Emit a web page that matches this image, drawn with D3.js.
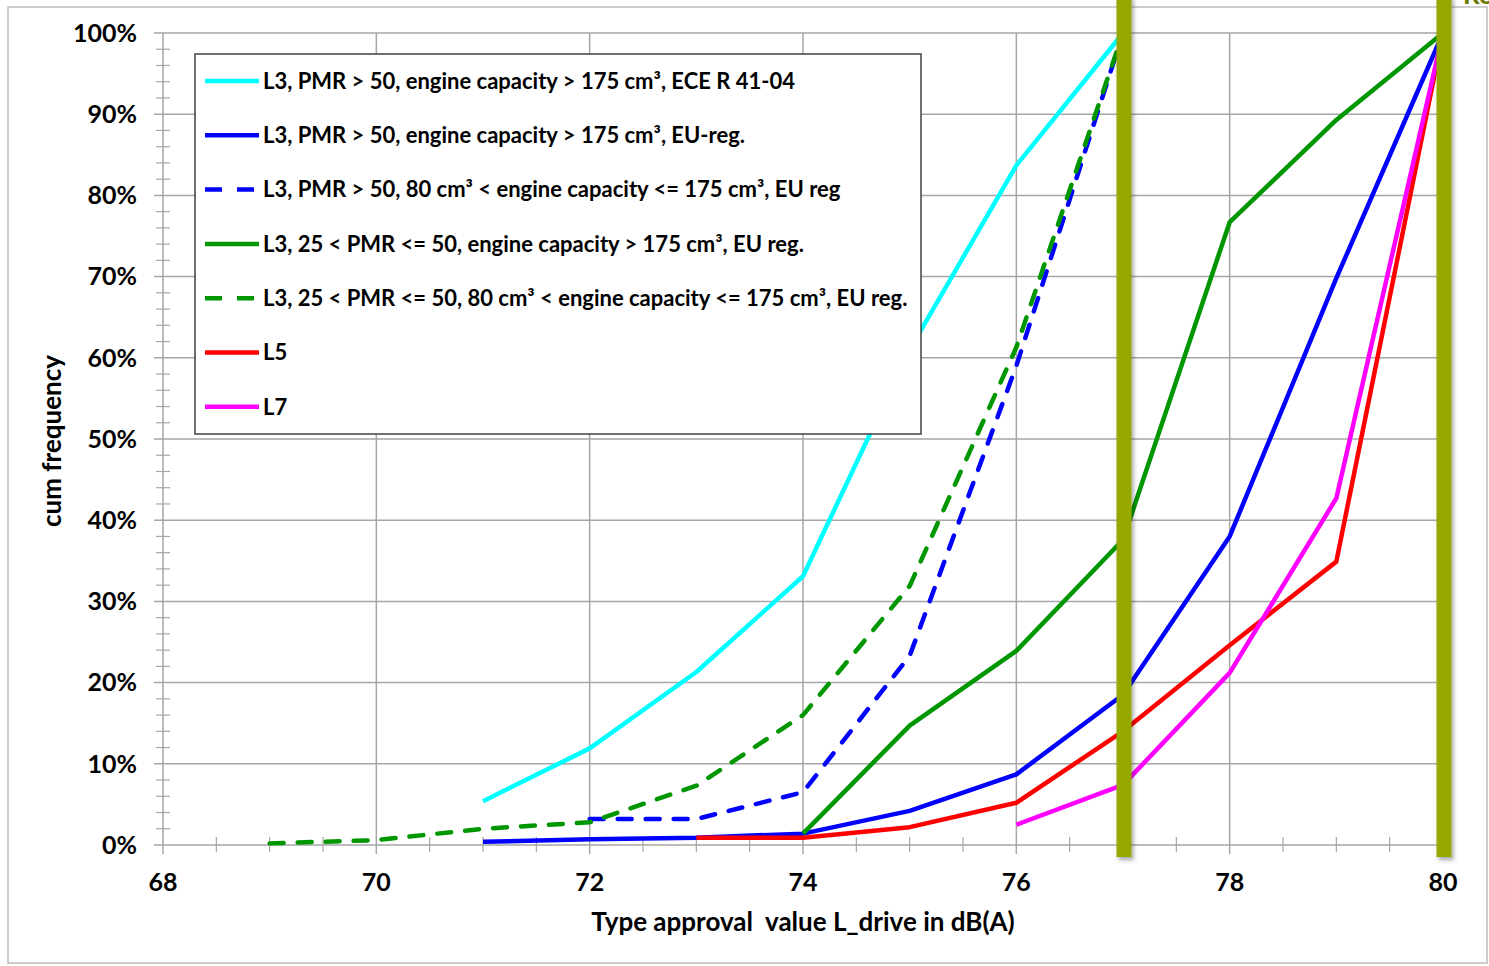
<!DOCTYPE html>
<html>
<head>
<meta charset="utf-8">
<script src="https://cdn.jsdelivr.net/npm/d3@7"></script>
<style>
  body { margin: 0; background: #fff; }
  text { font-family: Lato, "Open Sans", sans-serif; font-weight: bold; fill: #000; }
</style>
</head>
<body>
<div id="chart"></div>
<script>
// Data (cumulative frequency in %)
const seriesNames = [
  "L3, PMR > 50, engine capacity > 175 cm³, ECE R 41-04",
  "L3, PMR > 50, engine capacity > 175 cm³, EU-reg.",
  "L3, PMR > 50, 80 cm³ < engine capacity <= 175 cm³, EU reg",
  "L3, 25 < PMR <= 50, engine capacity > 175 cm³, EU reg.",
  "L3, 25 < PMR <= 50, 80 cm³ < engine capacity <= 175 cm³, EU reg.",
  "L5",
  "L7"
];
const seriesColors = ["#00ffff", "#0000ff", "#0000ff", "#009600", "#009600", "#ff0000", "#ff00ff"];
const seriesDashed = [false, false, true, false, true, false, false];

const cyanX = [71, 72, 73, 74, 75, 76, 77];
const cyanY = [5.4, 11.9, 21.3, 33.1, 61.0, 83.7, 100];
const blueX = [71, 72, 73, 74, 75, 76, 77, 78, 79, 80];
const blueY = [0.4, 0.7, 0.9, 1.4, 4.2, 8.7, 18.5, 38.0, 69.8, 100];
const blueDashX = [72, 73, 74, 75, 76, 77];
const blueDashY = [3.2, 3.2, 6.5, 23.3, 59.0, 100];
const greenX = [74, 75, 76, 77, 78, 79, 80];
const greenY = [1.4, 14.7, 23.9, 37.6, 76.7, 89.3, 100];
const greenDashX = [69, 70, 71, 72, 73, 74, 75, 76, 77];
const greenDashY = [0.2, 0.6, 2.0, 2.8, 7.3, 16.0, 31.9, 61.3, 100];
const redX = [73, 74, 75, 76, 77, 78, 79, 80];
const redY = [0.9, 0.9, 2.2, 5.2, 14.0, 24.6, 34.9, 100];
const magentaX = [76, 77, 78, 79, 80];
const magentaY = [2.5, 7.4, 21.2, 42.7, 100];

const xTicks = [68, 70, 72, 74, 76, 78, 80];
const yTicks = [0, 10, 20, 30, 40, 50, 60, 70, 80, 90, 100];
const limitLines = [77, 80];

const allX = [cyanX, blueX, blueDashX, greenX, greenDashX, redX, magentaX];
const allY = [cyanY, blueY, blueDashY, greenY, greenDashY, redY, magentaY];

// Set up the chart dimensions
const W = 1489, H = 966;
const margin = { top: 33, right: 46, bottom: 121, left: 163 };
const width = W - margin.left - margin.right;
const height = H - margin.top - margin.bottom;

const x = d3.scaleLinear().domain([68, 80]).range([0, width]);
const y = d3.scaleLinear().domain([0, 100]).range([height, 0]);

const root = d3.select("#chart").append("svg")
    .attr("width", W)
    .attr("height", H);

// drop shadow for the limit bars
const defs = root.append("defs");
const f = defs.append("filter").attr("id", "shadow").attr("x", "-50%").attr("y", "-5%").attr("width", "200%").attr("height", "110%");
f.append("feDropShadow").attr("dx", 2).attr("dy", 3).attr("stdDeviation", 2).attr("flood-color", "#000").attr("flood-opacity", 0.35);

// outer frame
root.append("rect")
    .attr("x", 8).attr("y", 7)
    .attr("width", 1479).attr("height", 956)
    .attr("fill", "none")
    .attr("stroke", "#bdbdbd")
    .attr("stroke-width", 1.5);

const svg = root.append("g")
    .attr("transform", `translate(${margin.left},${margin.top})`);

const gridColor = "#a6a6a6";

// horizontal gridlines
svg.append("g").selectAll("line")
    .data(yTicks)
    .join("line")
    .attr("x1", -9).attr("x2", width)
    .attr("y1", d => y(d)).attr("y2", d => y(d))
    .attr("stroke", gridColor).attr("stroke-width", 1.5);

// vertical gridlines
svg.append("g").selectAll("line")
    .data(xTicks)
    .join("line")
    .attr("x1", d => x(d)).attr("x2", d => x(d))
    .attr("y1", 0).attr("y2", height + 9)
    .attr("stroke", gridColor).attr("stroke-width", 1.5);

// minor ticks
svg.append("g").selectAll("line")
    .data(d3.range(0, 100.1, 2).filter(v => v % 10 !== 0))
    .join("line")
    .attr("x1", -7).attr("x2", 7)
    .attr("y1", d => y(d)).attr("y2", d => y(d))
    .attr("stroke", gridColor).attr("stroke-width", 1.2);

svg.append("g").selectAll("line")
    .data(d3.range(68, 80.01, 0.5).filter(v => v % 2 !== 0))
    .join("line")
    .attr("x1", d => x(d)).attr("x2", d => x(d))
    .attr("y1", height - 8).attr("y2", height + 7)
    .attr("stroke", gridColor).attr("stroke-width", 1.2);

// axis labels
svg.append("g").selectAll("text")
    .data(yTicks)
    .join("text")
    .attr("x", -26)
    .attr("y", d => y(d))
    .attr("dy", "0.35em")
    .attr("text-anchor", "end")
    .style("font-size", "25px")
    .text(d => d + "%");

svg.append("g").selectAll("text")
    .data(xTicks)
    .join("text")
    .attr("x", d => x(d))
    .attr("y", height + 37)
    .attr("dy", "0.35em")
    .attr("text-anchor", "middle")
    .style("font-size", "25px")
    .text(d => d);

svg.append("text")
    .attr("x", x(74))
    .attr("y", height + 77)
    .attr("dy", "0.35em")
    .attr("text-anchor", "middle")
    .attr("xml:space", "preserve")
    .style("font-size", "26px")
    .text("Type approval  value L_drive in dB(A)");

svg.append("text")
    .attr("transform", `translate(${52 - margin.left},${408})rotate(-90)`)
    .attr("dy", "0.35em")
    .attr("text-anchor", "middle")
    .style("font-size", "26px")
    .text("cum frequency");

// the series
const line = d3.line()
    .x(d => x(d[0]))
    .y(d => y(d[1]));

allX.forEach((xs, i) => {
    const pts = xs.map((v, j) => [v, allY[i][j]]);
    svg.append("path")
        .datum(pts)
        .attr("fill", "none")
        .attr("stroke", seriesColors[i])
        .attr("stroke-width", 4.5)
        .attr("stroke-linejoin", "round")
        .attr("stroke-linecap", seriesDashed[i] ? "round" : "butt")
        .attr("stroke-dasharray", seriesDashed[i] ? "14,14" : null)
        .attr("d", line);
});

// legend
const lg = root.append("g").attr("transform", "translate(195,54)");
lg.append("rect")
    .attr("width", 726).attr("height", 380)
    .attr("fill", "#fff")
    .attr("stroke", "#404040").attr("stroke-width", 1.5);

const items = lg.selectAll("g.item")
    .data(seriesNames)
    .join("g")
    .attr("class", "item")
    .attr("transform", (d, i) => `translate(0,${27 + i * 54.3})`);

items.append("line")
    .attr("x1", 10).attr("x2", 64)
    .attr("stroke", (d, i) => seriesColors[i])
    .attr("stroke-width", 4.5)
    .attr("stroke-dasharray", (d, i) => seriesDashed[i] ? "17,15" : null);

items.append("text")
    .attr("x", 68)
    .attr("dy", "0.35em")
    .style("font-size", "22px")
    .text(d => d);

// limit bars at 77 and 80 dB(A)
root.append("g").selectAll("rect")
    .data(limitLines)
    .join("rect")
    .attr("x", d => margin.left + x(d) - 6.5)
    .attr("y", -5)
    .attr("width", 15)
    .attr("height", 862)
    .attr("fill", "#94a800")
    .attr("filter", "url(#shadow)");

// cut-off text at top right (cropped as in the source image)
root.append("text")
    .attr("x", 1463).attr("y", 4)
    .style("font-size", "26px")
    .style("fill", "#6b7800")
    .text("Re");
</script>
</body>
</html>
